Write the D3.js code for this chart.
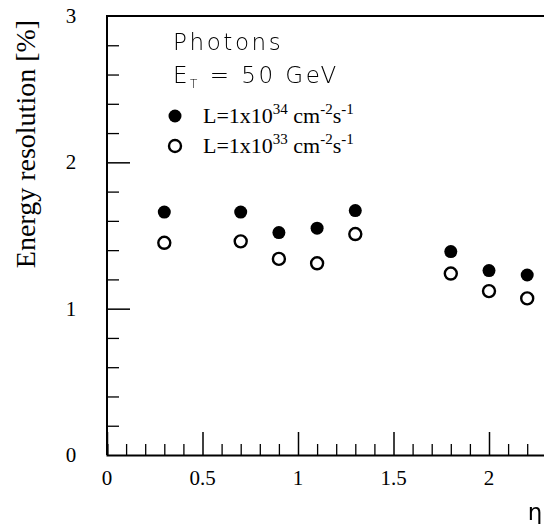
<!DOCTYPE html>
<html lang="en">
<head>
    <meta charset="UTF-8">
    <title>Energy resolution vs eta</title>
    <script src="https://d3js.org/d3.v7.min.js"></script>
    <style>
        body { margin: 0; background: #fff; }
        svg { display: block; }
        .thin { filter: grayscale(100%); }
    </style>
</head>
<body>
    <svg id="chart"></svg>
    <script>
        // eta bins and resolution (%)
        var eta = [0.3, 0.7, 0.9, 1.1, 1.3, 1.8, 2.0, 2.2];
        var highLumi = [1.66, 1.66, 1.52, 1.55, 1.67, 1.39, 1.26, 1.23];
        var lowLumi = [1.45, 1.46, 1.34, 1.31, 1.51, 1.24, 1.12, 1.07];
        var xTickLabels = [0, 0.5, 1, 1.5, 2];
        var yTickLabels = [0, 1, 2, 3];

        var W = 544, H = 524;
        var svg = d3.select("#chart").attr("width", W).attr("height", H);

        var x = d3.scaleLinear().domain([0, 2.5]).range([107, 107 + 2.5 * 191]);
        var y = d3.scaleLinear().domain([0, 3]).range([455, 16]);

        var serif = "'Liberation Serif', 'Times New Roman', serif";
        var sans = "'DejaVu Sans', sans-serif";

        // frame: left and top lines
        svg.append("path")
           .attr("d", "M" + x(0) + "," + y(0) + "V" + y(3) + "H" + x(2.5))
           .attr("fill", "none")
           .attr("stroke", "#000")
           .attr("stroke-width", 2);

        // bottom axis with inward ticks
        var xMinor = d3.range(0, 25).map(function(i) { return i / 10; }).filter(function(v) { return v > 0 && Math.round(v * 10) % 5 !== 0; });
        var xMajor = d3.range(0, 6).map(function(i) { return i * 0.5; });
        svg.append("g")
           .attr("transform", "translate(0," + y(0) + ")")
           .call(d3.axisTop(x).tickValues(xMinor).tickSize(11).tickFormat(""))
           .call(function(g) { g.select(".domain").attr("stroke-width", 2); g.selectAll(".tick line").attr("stroke-width", 1.3); });
        svg.append("g")
           .attr("transform", "translate(0," + y(0) + ")")
           .call(d3.axisTop(x).tickValues(xMajor).tickSize(23).tickFormat(""))
           .call(function(g) { g.select(".domain").remove(); g.selectAll(".tick line").attr("stroke-width", 1.5); });

        // left axis with inward ticks
        var yMinor = d3.range(1, 15).map(function(i) { return i * 0.2; }).filter(function(v) { return Math.abs(v - Math.round(v)) > 0.01; });
        svg.append("g")
           .attr("transform", "translate(" + x(0) + ",0)")
           .call(d3.axisRight(y).tickValues(yMinor).tickSize(12).tickFormat(""))
           .call(function(g) { g.select(".domain").remove(); g.selectAll(".tick line").attr("stroke-width", 1.3); });
        svg.append("g")
           .attr("transform", "translate(" + x(0) + ",0)")
           .call(d3.axisRight(y).tickValues([1, 2]).tickSize(23).tickFormat(""))
           .call(function(g) { g.select(".domain").remove(); g.selectAll(".tick line").attr("stroke-width", 1.5); });

        // tick labels
        svg.append("g").selectAll("text")
           .data(xTickLabels).enter().append("text")
           .attr("x", function(d) { return x(d); })
           .attr("y", 485)
           .attr("text-anchor", "middle")
           .attr("font-family", serif)
           .attr("font-size", 21)
           .text(function(d) { return d; });

        svg.append("g").selectAll("text")
           .data(yTickLabels).enter().append("text")
           .attr("x", 71)
           .attr("y", function(d) { return y(d) + 7; })
           .attr("text-anchor", "middle")
           .attr("font-family", serif)
           .attr("font-size", 21)
           .text(function(d) { return d; });

        // axis titles
        svg.append("text")
           .attr("transform", "translate(35,144) rotate(-90)")
           .attr("text-anchor", "middle")
           .attr("font-family", serif)
           .attr("font-size", 28)
           .text("Energy resolution [%]");

        svg.append("text")
           .attr("class", "thin")
           .attr("x", 535)
           .attr("y", 520)
           .attr("text-anchor", "middle")
           .attr("font-family", sans)
           .attr("font-size", 23)
           .attr("fill", "#000")
           .text("η");

        // data points
        svg.append("g").selectAll("circle")
           .data(eta).enter().append("circle")
           .attr("cx", function(d) { return x(d); })
           .attr("cy", function(d, i) { return y(highLumi[i]); })
           .attr("r", 6.5)
           .attr("fill", "#000");

        svg.append("g").selectAll("circle")
           .data(eta).enter().append("circle")
           .attr("cx", function(d) { return x(d); })
           .attr("cy", function(d, i) { return y(lowLumi[i]); })
           .attr("r", 6)
           .attr("fill", "#fff")
           .attr("stroke", "#000")
           .attr("stroke-width", 2.4);

        // labels
        svg.append("text")
           .attr("class", "thin")
           .attr("x", 173).attr("y", 50)
           .attr("font-family", sans).attr("font-weight", 200)
           .attr("font-size", 23).attr("letter-spacing", 2.6)
           .attr("fill", "#000")
           .text("Photons");

        var et = svg.append("text")
           .attr("class", "thin")
           .attr("x", 173).attr("y", 83)
           .attr("font-family", sans).attr("font-weight", 200)
           .attr("font-size", 23).attr("letter-spacing", 2.5)
           .attr("fill", "#000");
        et.append("tspan").text("E");
        et.append("tspan").attr("font-size", 12).attr("dy", 5).text("T");
        et.append("tspan").attr("dy", -5).text(" = 50 GeV");

        var legend = svg.append("g");
        var items = [
            { filled: true, exp: "34", cy: 116 },
            { filled: false, exp: "33", cy: 146 }
        ];
        items.forEach(function(it) {
            legend.append("circle")
                  .attr("cx", 175).attr("cy", it.cy)
                  .attr("r", it.filled ? 6.5 : 6)
                  .attr("fill", it.filled ? "#000" : "#fff")
                  .attr("stroke", it.filled ? "none" : "#000")
                  .attr("stroke-width", 2.4);
            var t = legend.append("text")
                  .attr("x", 203).attr("y", it.cy + 7)
                  .attr("font-family", serif).attr("font-size", 22);
            t.append("tspan").text("L=1x10");
            t.append("tspan").attr("font-size", 15).attr("dy", -9).text(it.exp);
            t.append("tspan").attr("dy", 9).text(" cm");
            t.append("tspan").attr("font-size", 15).attr("dy", -9).text("-2");
            t.append("tspan").attr("dy", 9).text("s");
            t.append("tspan").attr("font-size", 15).attr("dy", -9).text("-1");
        });
    </script>
</body>
</html>
